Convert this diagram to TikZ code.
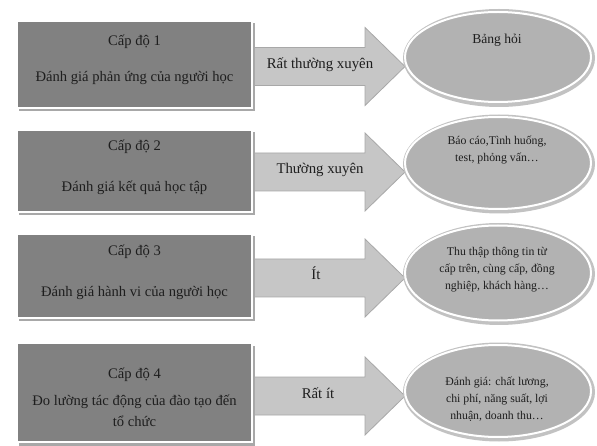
\documentclass[tikz,border=0pt]{standalone}
\usepackage{fontspec}
\setmainfont{Liberation Serif}
\usetikzlibrary{shapes.geometric}
\definecolor{boxfill}{HTML}{818181}
\definecolor{arrfill}{HTML}{C6C6C6}
\definecolor{ellfill}{HTML}{B2B2B2}
\definecolor{shade}{HTML}{A8A8A8}
\definecolor{txt}{HTML}{1E1E1E}
\tikzset{
  levelbox/.style={rectangle, fill=boxfill, draw=white, line width=1.6pt, inner sep=0pt},
  boxshadow/.style={rectangle, fill=shade, draw=none, inner sep=0pt},
  boxtext/.style={font=\fontsize{14.6}{21.5}\selectfont, text=txt, align=center, inner sep=0pt},
  blockarrow/.style={fill=arrfill, draw=shade, line width=0.8pt, line join=miter},
  methodell/.style={ellipse, fill=ellfill, draw=white, line width=2pt, inner sep=0pt},
  ellshadow/.style={ellipse, fill=shade!70, draw=none, inner sep=0pt},
  elltext/.style={font=\fontsize{11.8}{17}\selectfont, text=txt, align=center, inner sep=0pt},
  arrtext/.style={font=\fontsize{14.8}{16}\selectfont, text=txt, inner sep=0pt}
}
\begin{document}
\begin{tikzpicture}[x=1pt,y=-1pt]
\useasboundingbox[fill=white] (0,0) rectangle (597,446);
% arrows
\foreach \cy in {66.5,172,278,396}{
  \draw[blockarrow] (252,\cy-19) -- (365,\cy-19) -- (365,\cy-39) -- (405,\cy)
     -- (365,\cy+39) -- (365,\cy+19) -- (252,\cy+19) -- cycle;
}
% box shadows and boxes
\node[boxshadow, minimum width=236, minimum height=88] at (137,67.5) {};
\node[levelbox, minimum width=235, minimum height=87] (b1) at (134.5,64.5) {};
\node[boxshadow, minimum width=236, minimum height=83] at (137,174) {};
\node[levelbox, minimum width=235, minimum height=82] (b2) at (134.5,171) {};
\node[boxshadow, minimum width=236, minimum height=85] at (137,279) {};
\node[levelbox, minimum width=235, minimum height=84] (b3) at (134.5,276) {};
\node[boxshadow, minimum width=236, minimum height=100] at (137,395.5) {};
\node[levelbox, minimum width=235, minimum height=99] (b4) at (134.5,392.5) {};
% box texts
\node[boxtext] (b1t) at (134.5,42) {Cấp độ 1};
\node[boxtext] (b1s) at (134.5,78) {Đánh giá phản ứng của người học};
\node[boxtext] (b2t) at (134.5,147) {Cấp độ 2};
\node[boxtext] (b2s) at (134.5,188) {Đánh giá kết quả học tập};
\node[boxtext] (b3t) at (134.5,252) {Cấp độ 3};
\node[boxtext] (b3s) at (134.5,293) {Đánh giá hành vi của người học};
\node[boxtext] (b4t) at (134.5,375) {Cấp độ 4};
\node[boxtext] (b4s) at (134.5,411) {Đo lường tác động của đào tạo đến\\tổ chức};
% arrow texts
\node[arrtext] (a1) at (320,65) {Rất thường xuyên};
\node[arrtext] (a2) at (320,170) {Thường xuyên};
\node[arrtext] (a3) at (316,273) {Ít};
\node[arrtext] (a4) at (318,393) {Rất ít};
% ellipses
\node[ellshadow, minimum width=192, minimum height=98] at (499,58) {};
\node[methodell, minimum width=186, minimum height=90] (e1) at (498,57) {};
\node[ellshadow, minimum width=192, minimum height=99] at (499,164) {};
\node[methodell, minimum width=186, minimum height=92] (e2) at (498,163) {};
\node[ellshadow, minimum width=192, minimum height=102] at (499,274) {};
\node[methodell, minimum width=186, minimum height=95] (e3) at (498,273) {};
\node[ellshadow, minimum width=192, minimum height=99] at (499,392) {};
\node[methodell, minimum width=186, minimum height=92] (e4) at (498,391) {};
% ellipse texts
\node[elltext, font=\fontsize{13.6}{17}\selectfont] (e1t) at (497,40) {Bảng hỏi};
\node[elltext] (e2t) at (497,150) {Báo cáo,Tình huống,\\test, phỏng vấn…};
\node[elltext] (e3t) at (497,269.5) {Thu thập thông tin từ\\cấp trên, cùng cấp, đồng\\nghiệp, khách hàng…};
\node[elltext] (e4t) at (497,399.5) {Đánh giá: chất lương,\\chi phí, năng suất, lợi\\nhuận, doanh thu…};
\end{tikzpicture}
\end{document}
